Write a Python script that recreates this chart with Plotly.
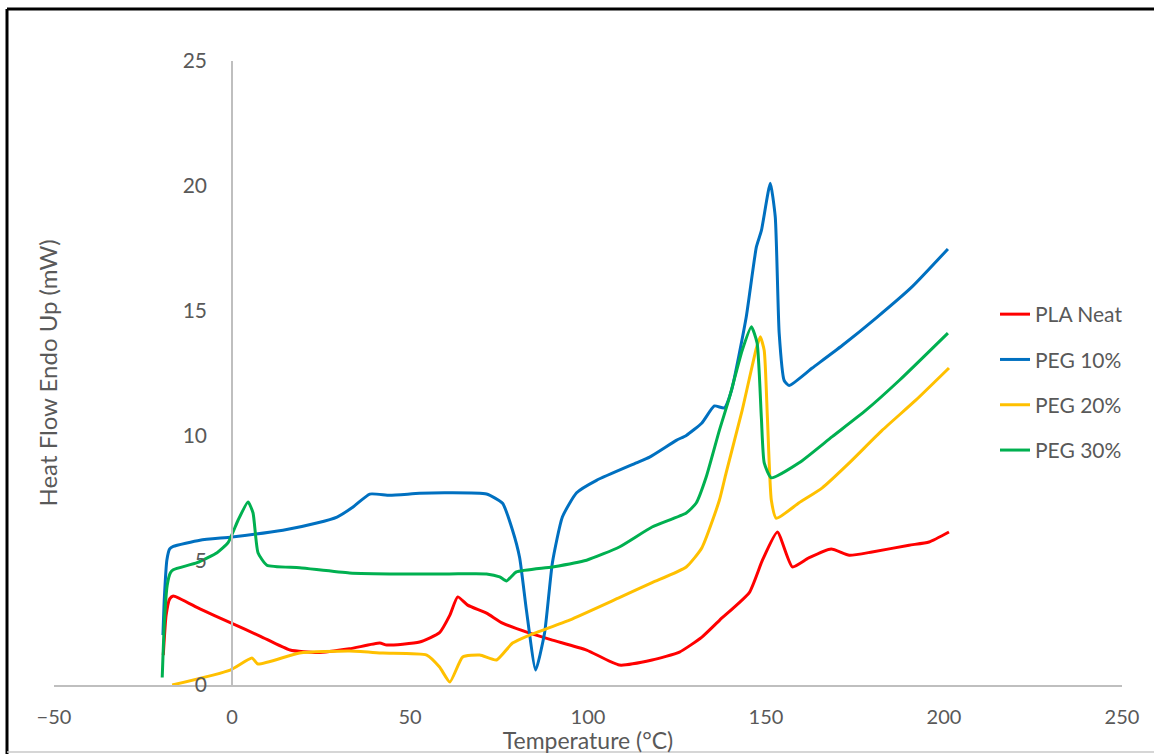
import plotly.graph_objects as go

# ---- data ----
pla_t = [-19.3, -18.5, -17.5, -16.5, -9, -0.5, 8, 16.3, 24, 33, 41.5, 43.5, 52.7, 58.3, 61.2, 63.4, 66.2,
         71.5, 76, 83.6, 90, 99.6, 108.8, 118, 125.7, 132, 137, 145.3, 149, 153.2, 157.4, 162, 168.3,
         173.4, 179.8, 190.2, 195.8, 201.4]
pla_y = [1.2, 2.8, 3.45, 3.57, 3.05, 2.5, 1.95, 1.4, 1.3, 1.45, 1.68, 1.6, 1.72, 2.1, 2.8, 3.53, 3.2,
         2.88, 2.48, 2.08, 1.8, 1.4, 0.8, 1.0, 1.32, 1.92, 2.6, 3.7, 5.0, 6.13, 4.73, 5.09, 5.45,
         5.2, 5.33, 5.6, 5.73, 6.13]

peg10_t = [-19.4, -19.0, -18.3, -17.5, -16.5, -9, 0, 14.3, 23.8, 29.5, 34, 38.7, 44.3, 52.7, 61, 71.5,
           76, 78.8, 80.8, 82.7, 85.3, 87.8, 90, 92.8, 96.8, 102.4, 113.6, 117.3, 124.8, 127.6, 132,
           135.5, 138.3, 140.3, 144.4, 147.3, 148.7, 151.2, 152.6, 153.7, 155.1, 156.5, 163, 171.4,
           180.9, 191, 201.1]
peg10_y = [2.0, 3.5, 5.0, 5.45, 5.55, 5.8, 5.93, 6.2, 6.49, 6.73, 7.13, 7.65, 7.6, 7.68, 7.7, 7.65,
           7.28, 6.2, 5.1, 3.0, 0.6, 2.08, 4.9, 6.73, 7.7, 8.2, 8.9, 9.13, 9.8, 10.0, 10.5,
           11.18, 11.1, 11.8, 14.7, 17.55, 18.2, 20.1, 18.75, 14.1, 12.2, 12.0, 12.7, 13.6,
           14.7, 15.95, 17.47]

peg20_t = [-16.8, -0.5, 5.6, 7.3, 19, 33, 42.4, 54.7, 58.3, 61.2, 64.8, 69.6, 74.3, 78.8, 83.6, 94.8,
           108.8, 118, 127.6, 132, 136.9, 138.8, 143.3, 147.3, 148.4, 149.5, 150.4, 151.5, 152.9,
           159.3, 165.8, 173.4, 182.6, 192, 201.4]
peg20_y = [0.0, 0.6, 1.08, 0.84, 1.28, 1.36, 1.28, 1.2, 0.72, 0.12, 1.12, 1.2, 1.0, 1.68, 2.0, 2.6,
           3.5, 4.1, 4.73, 5.5, 7.4, 8.5, 11.0, 13.5, 13.95, 13.4, 10.7, 7.4, 6.68,
           7.3, 7.9, 8.9, 10.2, 11.4, 12.7]

peg30_t = [-19.6, -19.0, -18.2, -17.3, -16.5, -9.8, -4.2, -1.1, 1.7, 4.5, 5.9, 7.3, 9.8, 19, 33, 47,
           61, 71.5, 75.2, 77.1, 79.9, 90, 99.6, 108.8, 118, 127.6, 130.4, 133.2, 136.9, 139.7,
           143.3, 145.9, 147.5, 148.7, 149.5, 151.5, 159.3, 168.6, 178, 187.4, 201.1]
peg30_y = [0.3, 2.5, 4.0, 4.5, 4.62, 4.9, 5.3, 5.7, 6.6, 7.33, 6.9, 5.3, 4.8, 4.7, 4.49, 4.45,
           4.45, 4.45, 4.33, 4.17, 4.53, 4.73, 5.0, 5.53, 6.33, 6.89, 7.29, 8.33, 10.2, 11.5,
           13.4, 14.35, 13.7, 10.7, 8.9, 8.3, 8.9, 9.95, 11.0, 12.2, 14.1]

series = [
    ("PLA Neat", pla_t, pla_y, "#FF0000"),
    ("PEG 10%", peg10_t, peg10_y, "#0070C0"),
    ("PEG 20%", peg20_t, peg20_y, "#FFC000"),
    ("PEG 30%", peg30_t, peg30_y, "#00B050"),
]

x_ticks = [-50, 0, 50, 100, 150, 200, 250]
y_ticks = [0, 5, 10, 15, 20, 25]

FONT = "Lato, 'Open Sans', sans-serif"
GREY = "#595959"

fig = go.Figure()
for name, t, y, c in series:
    fig.add_trace(go.Scatter(x=t, y=y, name=name, mode="lines", legendgroup=name,
                             line=dict(color=c, width=3, shape="spline", smoothing=0.5)))

# plot area in pixels
L, R, T, B = 54, 1122, 61, 685
W, H = 1154, 754
pw, ph = R - L, B - T

def px_x(p):
    return (p - L) / pw

def px_y(p):
    return (B - p) / ph

fig.update_layout(
    width=W, height=H,
    margin=dict(l=L, r=W - R, t=T, b=H - B, autoexpand=False),
    paper_bgcolor="white", plot_bgcolor="white",
    font=dict(family=FONT, color=GREY, size=20),
    showlegend=True,
    legend=dict(x=px_x(995), y=px_y(294), xanchor="left", yanchor="top",
                font=dict(size=21, color=GREY), tracegroupgap=15,
                bgcolor="rgba(0,0,0,0)"),
    xaxis=dict(range=[-50, 250], tickvals=x_ticks, showgrid=False, zeroline=False,
               showline=True, linecolor="#BFBFBF", linewidth=1.5,
               ticks="outside", ticklen=13, tickcolor="rgba(0,0,0,0)",
               tickfont=dict(size=20, color=GREY),
               title=dict(text="Temperature (°C)", font=dict(size=23, color=GREY), standoff=1)),
    yaxis=dict(range=[0, 25], tickvals=y_ticks, showgrid=False, zeroline=False,
               anchor="free", position=px_x(232),
               showline=True, linecolor="#BFBFBF", linewidth=1.5,
               ticks="outside", ticklen=20, tickcolor="rgba(0,0,0,0)",
               tickfont=dict(size=21, color=GREY)),
    annotations=[dict(text="Heat Flow Endo Up (mW)", xref="paper", yref="paper",
                      x=px_x(30), y=0.5, textangle=-90, showarrow=False,
                      font=dict(size=24, color=GREY))],
    shapes=[
        dict(type="line", xref="paper", yref="paper", x0=px_x(7), x1=px_x(1160),
             y0=px_y(9), y1=px_y(9), line=dict(color="black", width=3)),
        dict(type="line", xref="paper", yref="paper", x0=px_x(7), x1=px_x(7),
             y0=px_y(9), y1=px_y(760), line=dict(color="black", width=3)),
        dict(type="line", xref="paper", yref="paper", x0=px_x(7), x1=px_x(1160),
             y0=px_y(752), y1=px_y(752), line=dict(color="#C8C8C8", width=1.5)),
    ],
)

fig.write_html("out.html")
